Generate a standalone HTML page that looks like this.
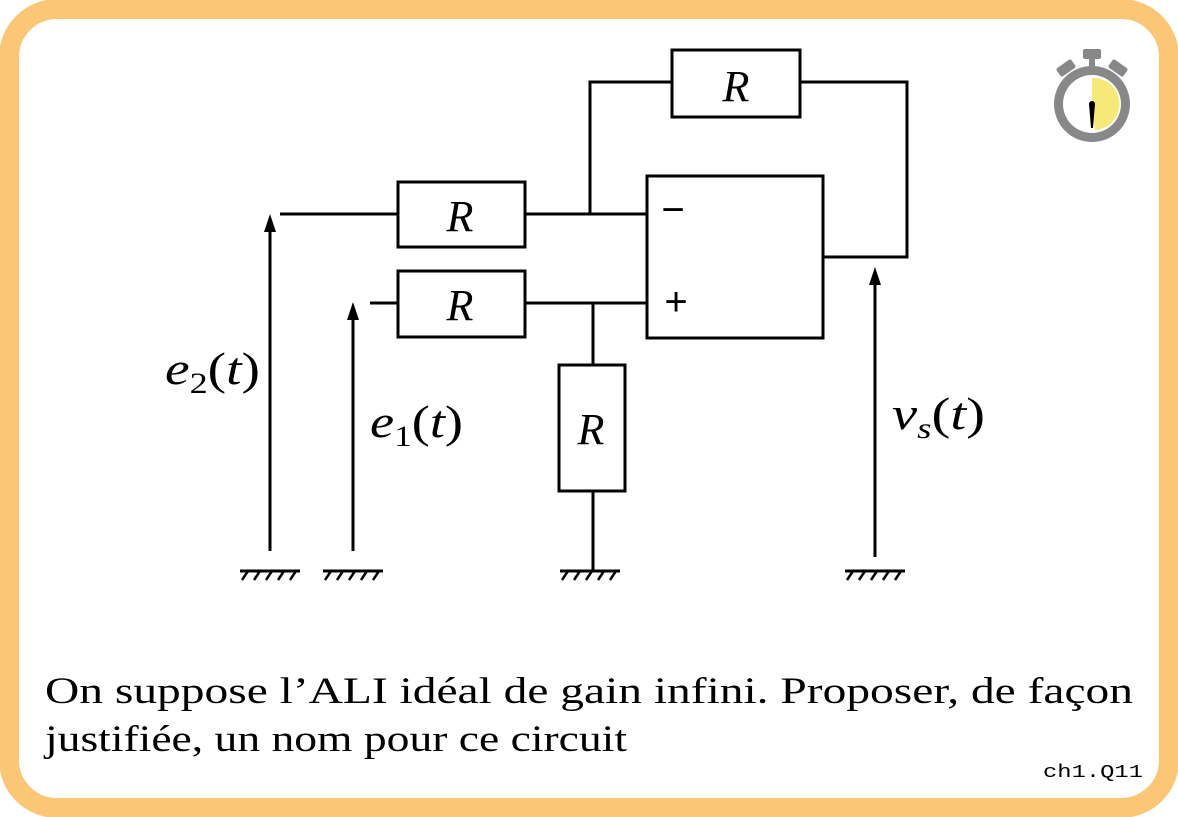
<!DOCTYPE html>
<html><head><meta charset="utf-8"><style>
html,body{margin:0;padding:0;background:#fff;}
svg{display:block;}
.txt{font-family:"Liberation Serif",serif;font-size:37px;fill:#000;}
.it{font-family:"Liberation Serif",serif;font-style:italic;fill:#000;}
</style></head><body>
<svg width="1178" height="817" viewBox="0 0 1178 817">
<rect x="9" y="9" width="1160" height="799" rx="48" fill="#fff" stroke="#FBC676" stroke-width="20"/>
<g stroke="#000" stroke-width="3" fill="none">
 <rect x="672" y="50" width="128" height="67"/>
 <polyline points="590,214 590,82 672,82"/>
 <polyline points="800,82 907,82 907,257 823,257"/>
 <rect x="647" y="176" width="176" height="162"/>
 <rect x="398" y="182" width="127" height="65"/>
 <line x1="280" y1="214" x2="398" y2="214"/>
 <line x1="525" y1="214" x2="647" y2="214"/>
 <rect x="398" y="271" width="127" height="66"/>
 <line x1="370" y1="303" x2="398" y2="303"/>
 <line x1="525" y1="303" x2="647" y2="303"/>
 <line x1="593" y1="303" x2="593" y2="365"/>
 <rect x="559" y="365" width="66" height="126"/>
 <line x1="593" y1="491" x2="593" y2="571"/>
 <line x1="270" y1="551" x2="270" y2="228"/>
 <line x1="353" y1="551" x2="353" y2="316"/>
 <line x1="875" y1="557" x2="875" y2="281"/>
</g>
<g fill="#000">
 <polygon points="270,214 264,232 276,232"/>
 <polygon points="353,302 347,320 359,320"/>
 <polygon points="875,267 869,285 881,285"/>
</g>
<g stroke="#000" stroke-width="3">
 <g transform="translate(240,571)"><line x1="0" y1="0" x2="60" y2="0"/><path d="M8 0 L2 9 M20 0 L14 9 M32 0 L26 9 M44 0 L38 9 M56 0 L50 9" stroke-width="2.5"/></g>
 <g transform="translate(323,571)"><line x1="0" y1="0" x2="60" y2="0"/><path d="M8 0 L2 9 M20 0 L14 9 M32 0 L26 9 M44 0 L38 9 M56 0 L50 9" stroke-width="2.5"/></g>
 <g transform="translate(560,571)"><line x1="0" y1="0" x2="60" y2="0"/><path d="M8 0 L2 9 M20 0 L14 9 M32 0 L26 9 M44 0 L38 9 M56 0 L50 9" stroke-width="2.5"/></g>
 <g transform="translate(845,571)"><line x1="0" y1="0" x2="60" y2="0"/><path d="M8 0 L2 9 M20 0 L14 9 M32 0 L26 9 M44 0 L38 9 M56 0 L50 9" stroke-width="2.5"/></g>
</g>
<g class="it" font-size="44" text-anchor="middle">
 <text x="736" y="101">R</text>
 <text x="460" y="231">R</text>
 <text x="460" y="320">R</text>
 <text x="591" y="444">R</text>
</g>
<text x="673" y="223" font-family="Liberation Sans,sans-serif" font-size="40" text-anchor="middle">−</text>
<text x="676" y="315" font-family="Liberation Sans,sans-serif" font-size="40" text-anchor="middle">+</text>
<text class="it" x="165" y="384" font-size="46" textLength="95" lengthAdjust="spacingAndGlyphs">e<tspan font-style="normal" font-size="30" dy="9">2</tspan><tspan font-style="normal" dy="-9">(</tspan>t<tspan font-style="normal">)</tspan></text>
<text class="it" x="370" y="437" font-size="46" textLength="93" lengthAdjust="spacingAndGlyphs">e<tspan font-style="normal" font-size="30" dy="9">1</tspan><tspan font-style="normal" dy="-9">(</tspan>t<tspan font-style="normal">)</tspan></text>
<text class="it" x="892" y="429" font-size="46" textLength="93" lengthAdjust="spacingAndGlyphs">v<tspan font-size="30" dy="9">s</tspan><tspan font-style="normal" dy="-9">(</tspan>t<tspan font-style="normal">)</tspan></text>
<g>
 <rect x="1083" y="49" width="18" height="10" rx="2" fill="#888"/>
 <rect x="1089" y="57" width="6" height="10" fill="#888"/>
 <rect x="1057" y="63" width="18" height="10" rx="2" fill="#888" transform="rotate(-35 1066 68)"/>
 <rect x="1109" y="63" width="18" height="10" rx="2" fill="#888" transform="rotate(35 1118 68)"/>
 <circle cx="1092" cy="104" r="38" fill="#888"/>
 <circle cx="1092" cy="104" r="29" fill="#fff"/>
 <path d="M1092 104 L1092 78 A26 26 0 0 1 1095 130 Z" fill="#F7E978"/>
 <polygon points="1089,104 1095,104 1093,128 1091,128" fill="#000"/>
 <circle cx="1092" cy="104" r="3" fill="#000"/>
</g>
<text class="txt" x="45" y="703" textLength="1088" lengthAdjust="spacingAndGlyphs">On suppose l’ALI idéal de gain infini. Proposer, de façon</text>
<text class="txt" x="45" y="751" textLength="582" lengthAdjust="spacingAndGlyphs">justifiée, un nom pour ce circuit</text>
<text x="1143" y="777" font-family="Liberation Mono,monospace" font-size="18" text-anchor="end" textLength="100" lengthAdjust="spacingAndGlyphs">ch1.Q11</text>
</svg>
</body></html>
